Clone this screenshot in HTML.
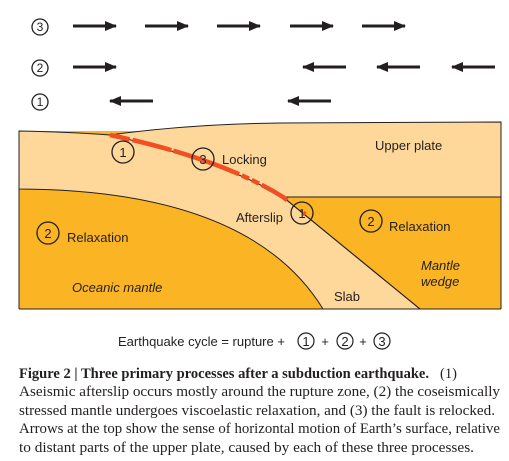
<!DOCTYPE html>
<html><head><meta charset="utf-8"><style>
html,body{margin:0;padding:0;background:#fff;}
svg{display:block;}
.s{font-family:"Liberation Sans",sans-serif;fill:#231f20;}
.c{font-family:"Liberation Serif",serif;fill:#231f20;font-size:14.5px;}
</style></head><body>
<svg width="509" height="461" viewBox="0 0 509 461">
<defs><marker id="ah" markerWidth="12" markerHeight="10" refX="11" refY="5" orient="auto" markerUnits="userSpaceOnUse"><path d="M0,0 L12,5 L0,10 z" fill="#231f20"/></marker></defs>
<g stroke="#231f20" stroke-width="3" fill="none">
<circle cx="40" cy="27" r="8" stroke-width="1.3"/>
<circle cx="40" cy="68" r="8" stroke-width="1.3"/>
<circle cx="40" cy="102" r="8" stroke-width="1.3"/>
<line x1="73" y1="26" x2="116" y2="26" marker-end="url(#ah)"/>
<line x1="145" y1="26" x2="188" y2="26" marker-end="url(#ah)"/>
<line x1="217" y1="26" x2="260" y2="26" marker-end="url(#ah)"/>
<line x1="290" y1="26" x2="333" y2="26" marker-end="url(#ah)"/>
<line x1="362" y1="26" x2="405" y2="26" marker-end="url(#ah)"/>
<line x1="73" y1="67" x2="116" y2="67" marker-end="url(#ah)"/>
<line x1="346" y1="67" x2="303" y2="67" marker-end="url(#ah)"/>
<line x1="420" y1="67" x2="377" y2="67" marker-end="url(#ah)"/>
<line x1="495" y1="67" x2="452" y2="67" marker-end="url(#ah)"/>
<line x1="153" y1="101" x2="110" y2="101" marker-end="url(#ah)"/>
<line x1="331" y1="101" x2="288" y2="101" marker-end="url(#ah)"/>
</g>
<g class="s" font-size="12" text-anchor="middle">
<text x="40" y="31">3</text><text x="40" y="72">2</text><text x="40" y="106">1</text>
</g>
<g>
<rect x="19" y="131" width="482" height="178" fill="#fbb524"/>
<path d="M19,131 Q70,132 110,135 Q190,124 280,123 L501,122 L501,197 L283,197 L420,309 L323,309 Q250,190 19,189 Z" fill="#fdd89a" stroke="#231f20" stroke-width="1"/>
<path d="M110,135 Q220,160 283,197 L420,309" fill="none" stroke="#231f20" stroke-width="1"/>
<line x1="19" y1="309" x2="501" y2="309" stroke="#231f20" stroke-width="1"/>
<line x1="19" y1="131" x2="19" y2="309" stroke="#231f20" stroke-width="1"/>
<line x1="501" y1="122" x2="501" y2="309" stroke="#231f20" stroke-width="1"/>
<path d="M110,135 Q220,158 283,197 L320,226" fill="none" stroke="#f04e23" stroke-width="4.5" stroke-dasharray="20,3,40,2,70,3,8,3,8,3,30"/>
<g fill="none" stroke="#231f20" stroke-width="1.3">
<circle cx="123" cy="152" r="11"/><circle cx="203" cy="159" r="11"/><circle cx="302" cy="213" r="11"/>
<circle cx="48" cy="233" r="11"/><circle cx="371" cy="221" r="11"/>
</g>
<g class="s" font-size="13">
<text x="123" y="157" text-anchor="middle">1</text>
<text x="203" y="164" text-anchor="middle">3</text>
<text x="302" y="218" text-anchor="middle">1</text>
<text x="48" y="238" text-anchor="middle">2</text>
<text x="371" y="226" text-anchor="middle">2</text>
<text x="222" y="164">Locking</text>
<text x="375" y="150">Upper plate</text>
<text x="236" y="222">Afterslip</text>
<text x="67" y="242">Relaxation</text>
<text x="389" y="231">Relaxation</text>
<text x="72" y="292" font-style="italic">Oceanic mantle</text>
<text x="334" y="301">Slab</text>
<text x="421" y="270" font-style="italic">Mantle</text>
<text x="421" y="286" font-style="italic">wedge</text>
</g>
</g>
<g>
<text class="s" x="118" y="346" font-size="13">Earthquake cycle = rupture +</text>
<g fill="none" stroke="#231f20" stroke-width="1.2"><circle cx="306" cy="341" r="8"/><circle cx="345" cy="341" r="8"/><circle cx="382" cy="341" r="8"/></g>
<g class="s" font-size="13" text-anchor="middle"><text x="306" y="346">1</text><text x="325" y="346">+</text><text x="345" y="346">2</text><text x="363" y="346">+</text><text x="382" y="346">3</text></g>
</g>
<g>
<text class="c" x="19" y="378" font-weight="bold" textLength="410" lengthAdjust="spacingAndGlyphs">Figure 2 | Three primary processes after a subduction earthquake.</text>
<text class="c" x="440" y="378">(1)</text>
<text class="c" x="19" y="396" textLength="481" lengthAdjust="spacingAndGlyphs">Aseismic afterslip occurs mostly around the rupture zone, (2) the coseismically</text>
<text class="c" x="19" y="415" textLength="476" lengthAdjust="spacingAndGlyphs">stressed mantle undergoes viscoelastic relaxation, and (3) the fault is relocked.</text>
<text class="c" x="19" y="433" textLength="481" lengthAdjust="spacingAndGlyphs">Arrows at the top show the sense of horizontal motion of Earth’s surface, relative</text>
<text class="c" x="19" y="452" textLength="455" lengthAdjust="spacingAndGlyphs">to distant parts of the upper plate, caused by each of these three processes.</text>
</g>
</svg>
</body></html>
